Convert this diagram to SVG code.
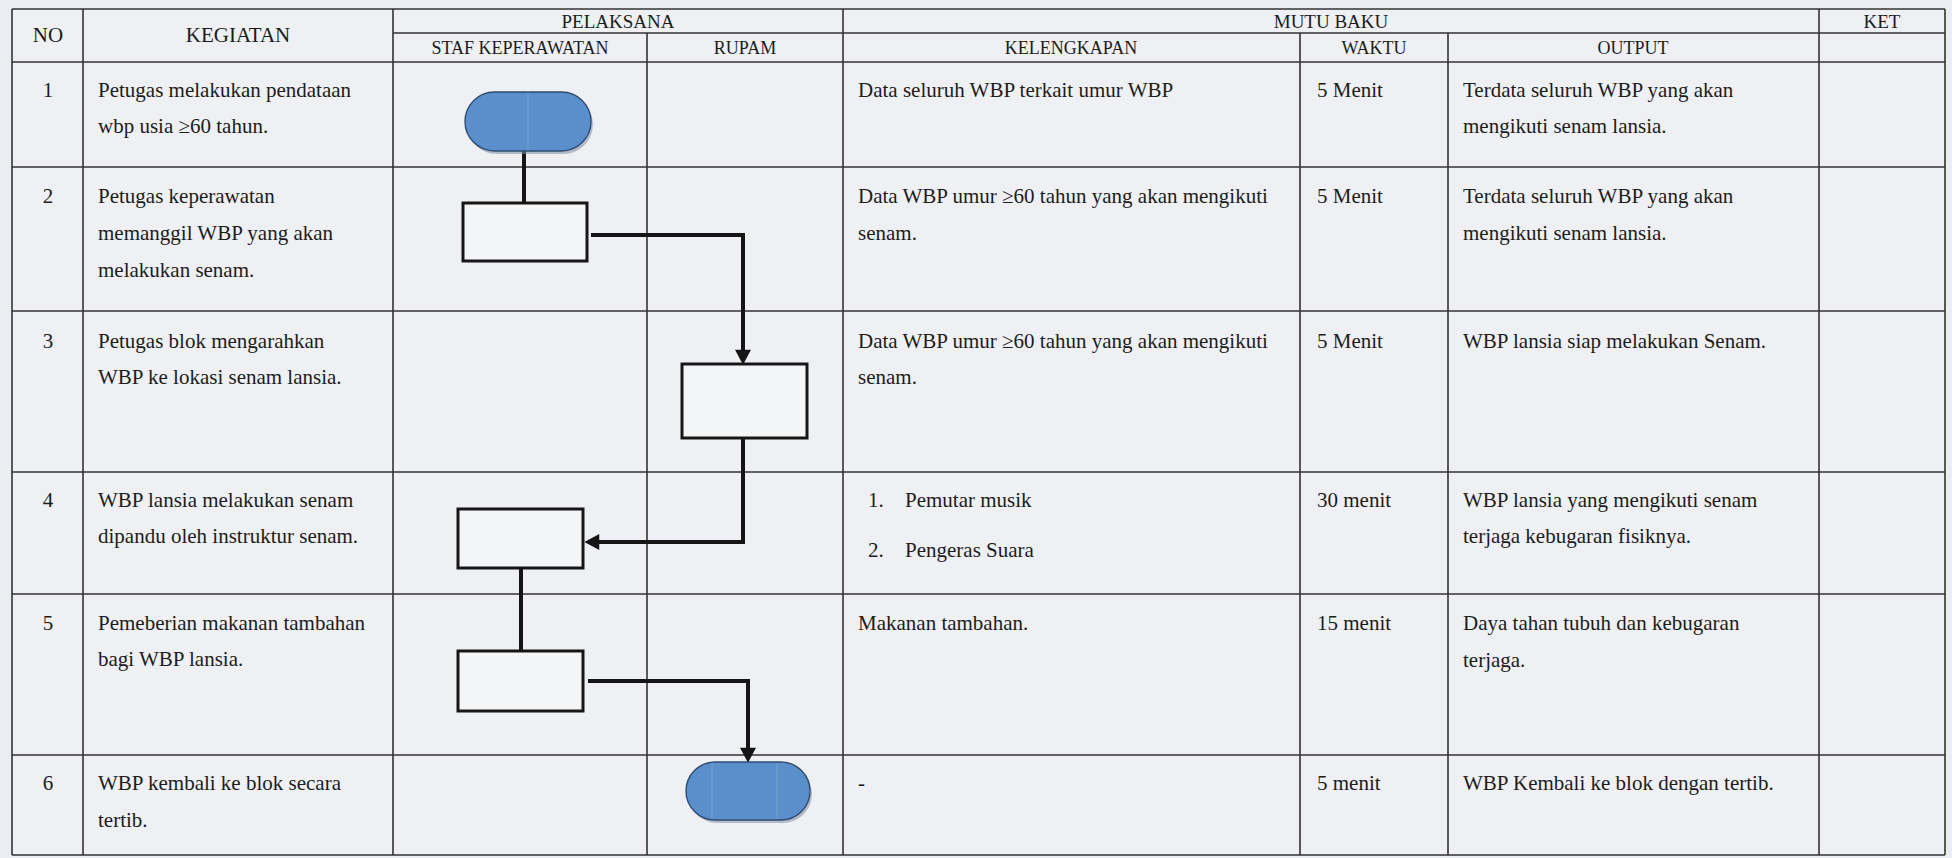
<svg xmlns="http://www.w3.org/2000/svg" width="1952" height="858" viewBox="0 0 1952 858">
<style>
  text { font-family: "Liberation Serif", "Times New Roman", serif; fill: #1c1c1c; }
  .b { font-size: 21px; }
  .h1 { font-size: 21px; }
  .h2 { font-size: 19px; }
  .h3 { font-size: 18px; }
  .c { text-anchor: middle; }
  .grid line { stroke: #333; stroke-width: 1.6; }
  .box { fill: #f4f5f7; stroke: #161616; stroke-width: 3; }
  .term { fill: #5b8fcb; stroke: #2f4d70; stroke-width: 1.4; }
  .shadow { fill: #7d8ea5; opacity: 0.55; }
  .seam { stroke: #7aa3d3; stroke-width: 1.2; opacity: 0.7; }
  .conn path { fill: none; stroke: #151515; stroke-width: 4; }
</style>
<defs>
  <marker id="arr" markerUnits="userSpaceOnUse" markerWidth="16" markerHeight="16" viewBox="0 0 14 15" refX="4" refY="7.5" orient="auto">
    <path d="M0,0 L14,7.5 L0,15 z" fill="#151515"/>
  </marker>
</defs>
<rect x="0" y="0" width="1952" height="858" fill="#eaedf1"/>
<rect x="12" y="9" width="1933" height="846" fill="#eef0f3"/>

<g id="table" class="grid">
  <line x1="12" y1="9" x2="1945" y2="9"/>
  <line x1="393" y1="33" x2="1945" y2="33"/>
  <line x1="12" y1="62" x2="1945" y2="62"/>
  <line x1="12" y1="167" x2="1945" y2="167"/>
  <line x1="12" y1="311" x2="1945" y2="311"/>
  <line x1="12" y1="472" x2="1945" y2="472"/>
  <line x1="12" y1="594" x2="1945" y2="594"/>
  <line x1="12" y1="755" x2="1945" y2="755"/>
  <line x1="12" y1="855" x2="1945" y2="855"/>
  <line x1="12" y1="9" x2="12" y2="855"/>
  <line x1="83" y1="9" x2="83" y2="855"/>
  <line x1="393" y1="9" x2="393" y2="855"/>
  <line x1="647" y1="33" x2="647" y2="855"/>
  <line x1="843" y1="9" x2="843" y2="855"/>
  <line x1="1300" y1="33" x2="1300" y2="855"/>
  <line x1="1448" y1="33" x2="1448" y2="855"/>
  <line x1="1819" y1="9" x2="1819" y2="855"/>
  <line x1="1945" y1="9" x2="1945" y2="855"/>
</g>

<g id="header">
  <text class="h1 c" x="48" y="42">NO</text>
  <text class="h1 c" x="238" y="42">KEGIATAN</text>
  <text class="h2 c" x="618" y="28">PELAKSANA</text>
  <text class="h2 c" x="1331" y="28">MUTU BAKU</text>
  <text class="h2 c" x="1882" y="28">KET</text>
  <text class="h3 c" x="520" y="54">STAF KEPERAWATAN</text>
  <text class="h3 c" x="745" y="54">RUPAM</text>
  <text class="h3 c" x="1071" y="54">KELENGKAPAN</text>
  <text class="h3 c" x="1374" y="54">WAKTU</text>
  <text class="h3 c" x="1633" y="54">OUTPUT</text>
</g>

<g id="row1">
  <text class="b c" x="48" y="97">1</text>
  <text class="b" x="98" y="97">Petugas melakukan pendataan</text>
  <text class="b" x="98" y="133">wbp usia ≥60 tahun.</text>
  <text class="b" x="858" y="97">Data seluruh WBP terkait umur WBP</text>
  <text class="b" x="1317" y="97">5 Menit</text>
  <text class="b" x="1463" y="97">Terdata seluruh WBP yang akan</text>
  <text class="b" x="1463" y="133">mengikuti senam lansia.</text>
</g>
<g id="row2">
  <text class="b c" x="48" y="203">2</text>
  <text class="b" x="98" y="203">Petugas keperawatan</text>
  <text class="b" x="98" y="240">memanggil WBP yang akan</text>
  <text class="b" x="98" y="277">melakukan senam.</text>
  <text class="b" x="858" y="203">Data WBP umur ≥60 tahun yang akan mengikuti</text>
  <text class="b" x="858" y="240">senam.</text>
  <text class="b" x="1317" y="203">5 Menit</text>
  <text class="b" x="1463" y="203">Terdata seluruh WBP yang akan</text>
  <text class="b" x="1463" y="240">mengikuti senam lansia.</text>
</g>
<g id="row3">
  <text class="b c" x="48" y="348">3</text>
  <text class="b" x="98" y="348">Petugas blok mengarahkan</text>
  <text class="b" x="98" y="384">WBP ke lokasi senam lansia.</text>
  <text class="b" x="858" y="348">Data WBP umur ≥60 tahun yang akan mengikuti</text>
  <text class="b" x="858" y="384">senam.</text>
  <text class="b" x="1317" y="348">5 Menit</text>
  <text class="b" x="1463" y="348">WBP lansia siap melakukan Senam.</text>
</g>
<g id="row4">
  <text class="b c" x="48" y="507">4</text>
  <text class="b" x="98" y="507">WBP lansia melakukan senam</text>
  <text class="b" x="98" y="543">dipandu oleh instruktur senam.</text>
  <text class="b" x="868" y="507">1.</text>
  <text class="b" x="905" y="507">Pemutar musik</text>
  <text class="b" x="868" y="557">2.</text>
  <text class="b" x="905" y="557">Pengeras Suara</text>
  <text class="b" x="1317" y="507">30 menit</text>
  <text class="b" x="1463" y="507">WBP lansia yang mengikuti senam</text>
  <text class="b" x="1463" y="543">terjaga kebugaran fisiknya.</text>
</g>
<g id="row5">
  <text class="b c" x="48" y="630">5</text>
  <text class="b" x="98" y="630">Pemeberian makanan tambahan</text>
  <text class="b" x="98" y="666">bagi WBP lansia.</text>
  <text class="b" x="858" y="630">Makanan tambahan.</text>
  <text class="b" x="1317" y="630">15 menit</text>
  <text class="b" x="1463" y="630">Daya tahan tubuh dan kebugaran</text>
  <text class="b" x="1463" y="667">terjaga.</text>
</g>
<g id="row6">
  <text class="b c" x="48" y="790">6</text>
  <text class="b" x="98" y="790">WBP kembali ke blok secara</text>
  <text class="b" x="98" y="827">tertib.</text>
  <text class="b" x="858" y="790">-</text>
  <text class="b" x="1317" y="790">5 menit</text>
  <text class="b" x="1463" y="790">WBP Kembali ke blok dengan tertib.</text>
</g>

<g id="connectors" class="conn">
  <path d="M524,151 V203"/>
  <path d="M591,235 H743 V354" marker-end="url(#arr)"/>
  <path d="M743,438 V542 H595" marker-end="url(#arr)"/>
  <path d="M521,568 V651"/>
  <path d="M588,681 H748 V752" marker-end="url(#arr)"/>
</g>

<g id="start">
  <rect class="shadow" x="467" y="95" width="126" height="59" rx="29.5"/>
  <rect class="term" x="465" y="92" width="126" height="59" rx="29.5"/>
  <line class="seam" x1="528" y1="93" x2="528" y2="150"/>
</g>
<g id="step2">
  <rect class="box" x="463" y="203" width="124" height="58"/>
</g>
<g id="step3">
  <rect class="box" x="682" y="364" width="125" height="74"/>
</g>
<g id="step4">
  <rect class="box" x="458" y="509" width="125" height="59"/>
</g>
<g id="step5">
  <rect class="box" x="458" y="651" width="125" height="60"/>
</g>
<g id="end">
  <rect class="shadow" x="688" y="765" width="124" height="58" rx="29"/>
  <rect class="term" x="686" y="762" width="124" height="58" rx="29"/>
  <line class="seam" x1="712" y1="763" x2="712" y2="819"/>
  <line class="seam" x1="777" y1="763" x2="777" y2="819"/>
</g>
</svg>
